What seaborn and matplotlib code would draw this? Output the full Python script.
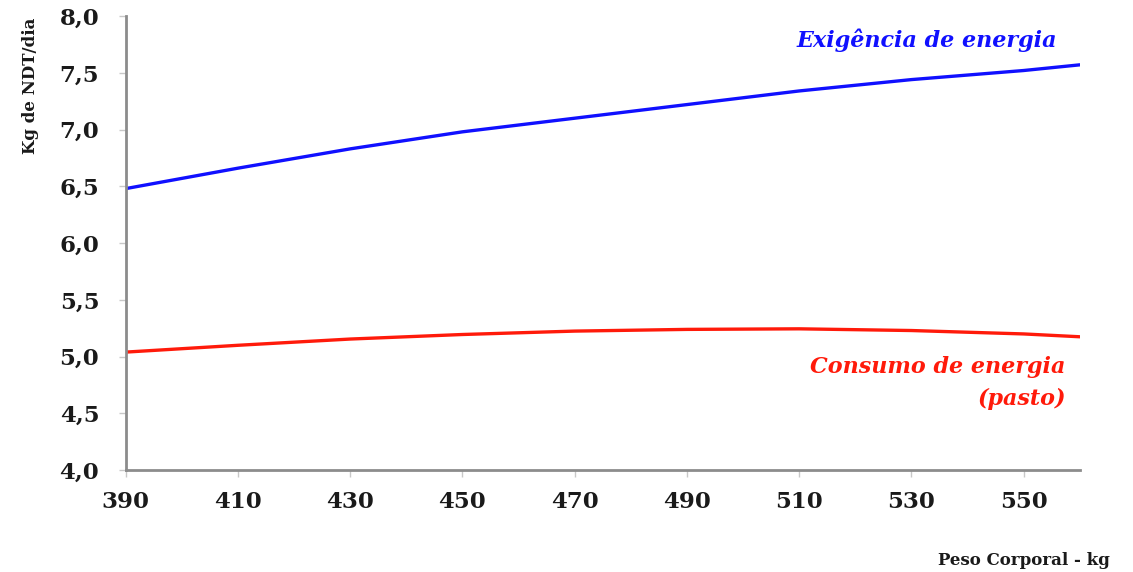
import matplotlib
matplotlib.use("Agg")
import matplotlib.pyplot as plt
import pandas as pd
import seaborn as sns

# peso corporal (kg) e NDT (kg/dia)
peso = [390, 410, 430, 450, 470, 490, 510, 530, 550, 560]
exigencia = [6.48, 6.66, 6.83, 6.98, 7.10, 7.22, 7.34, 7.44, 7.52, 7.57]
consumo = [5.04, 5.10, 5.155, 5.195, 5.225, 5.24, 5.245, 5.23, 5.20, 5.175]

x_ticks = [390, 410, 430, 450, 470, 490, 510, 530, 550]
y_ticks = [4.0, 4.5, 5.0, 5.5, 6.0, 6.5, 7.0, 7.5, 8.0]

df = pd.DataFrame({"peso": peso, "exigencia": exigencia, "consumo": consumo})

sns.set_style("white")
plt.rcParams["font.family"] = ["DejaVu Serif"]

fig = plt.figure(figsize=(11.33, 5.72), dpi=100)
ax = fig.add_axes([0.111, 0.178, 0.842, 0.794])

sns.lineplot(data=df, x="peso", y="exigencia", color="#1010ff", linewidth=2.4, ax=ax)
sns.lineplot(data=df, x="peso", y="consumo", color="#ff1a0a", linewidth=2.4, ax=ax)

ax.set_xlim(390, 560)
ax.set_ylim(4.0, 8.0)
ax.set_xticks(x_ticks)
ax.set_yticks(y_ticks)
ax.set_yticklabels([f"{v:.1f}".replace(".", ",") for v in y_ticks])
ax.tick_params(axis="both", which="both", bottom=True, left=True, length=5, width=1,
               color="#c8c8c8", direction="out", labelsize=16.5)
ax.tick_params(axis="x", pad=10)
ax.tick_params(axis="y", pad=14)
for lab in ax.get_xticklabels() + ax.get_yticklabels():
    lab.set_fontweight("bold")
    lab.set_color("#1a1a1a")

for s in ["top", "right"]:
    ax.spines[s].set_visible(False)
for s in ["left", "bottom"]:
    ax.spines[s].set_color("#8c8c8c")
    ax.spines[s].set_linewidth(2)

ax.set_xlabel("")
ax.set_ylabel("")
fig.text(0.027, 0.85, "Kg de NDT/dia", rotation=90, ha="center", va="center",
         fontsize=12, fontweight="bold", color="#1a1a1a")
fig.text(0.98, 0.006, "Peso Corporal - kg", ha="right", va="bottom",
         fontsize=12, fontweight="bold", color="#1a1a1a")

ax.text(556, 7.79, "Exigência de energia", ha="right", va="center",
        fontsize=16, fontweight="bold", fontstyle="italic", color="#1010ff")
ax.text(557.5, 4.77, "Consumo de energia\n(pasto)", ha="right", va="center",
        fontsize=16, fontweight="bold", fontstyle="italic", color="#ff1a0a",
        linespacing=1.6)

fig.savefig("out.png", dpi=100)
